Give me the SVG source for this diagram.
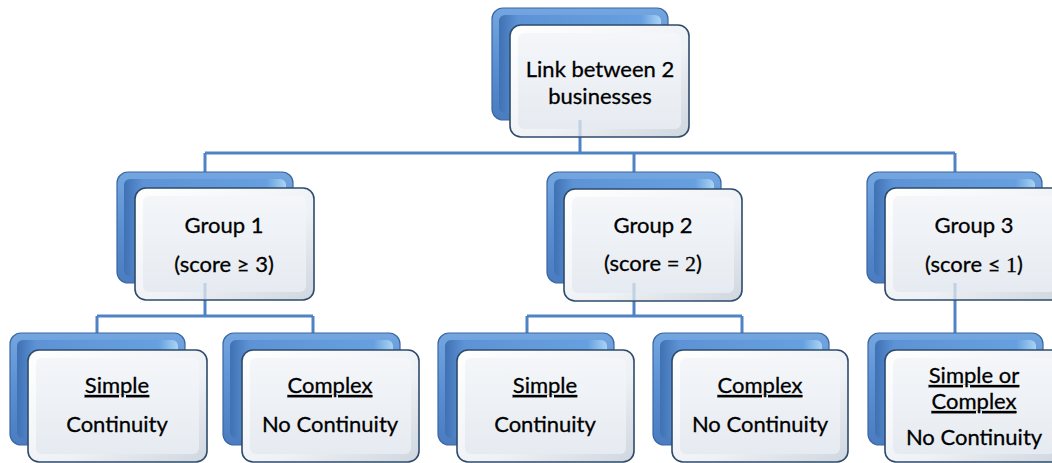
<svg xmlns="http://www.w3.org/2000/svg" width="1052" height="463" viewBox="0 0 1052 463">
  <defs>
    <linearGradient id="gBack" x1="0" y1="0" x2="0" y2="1">
      <stop offset="0" stop-color="#74a6e0"/>
      <stop offset="0.5" stop-color="#5a8fd2"/>
      <stop offset="1" stop-color="#4a7cbf"/>
    </linearGradient>
    <linearGradient id="gBackIn" x1="0" y1="0" x2="1" y2="0">
      <stop offset="0" stop-color="#3f71b3"/>
      <stop offset="0.12" stop-color="#5d93d6"/>
      <stop offset="0.88" stop-color="#66a0e0"/>
      <stop offset="1" stop-color="#a9d4f4"/>
    </linearGradient>
    <linearGradient id="gFront" x1="0" y1="0" x2="1" y2="1">
      <stop offset="0" stop-color="#ffffff"/>
      <stop offset="0.6" stop-color="#eef1f5"/>
      <stop offset="1" stop-color="#cfd6de"/>
    </linearGradient>
    <linearGradient id="gFrontIn" x1="0" y1="0" x2="0" y2="1">
      <stop offset="0" stop-color="#f4f6f9"/>
      <stop offset="1" stop-color="#e6ebf1"/>
    </linearGradient>
    <style>
      .conn { stroke: #4f83c4; stroke-width: 3; fill: none; }
      .ghost { stroke: #4f83c4; stroke-width: 3; fill: none; opacity: 0.25; }
      .back { fill: url(#gBack); stroke: #3a67a1; stroke-width: 1.2; }
      .backIn { fill: url(#gBackIn); }
      .front { fill: url(#gFront); stroke: #2e4b6b; stroke-width: 1.6; }
      .frontIn { fill: url(#gFrontIn); }
      text { font-family: Lato, "Open Sans", "Liberation Sans", sans-serif; font-size: 22px; fill: #000; stroke: #000; stroke-width: 0.3; text-anchor: middle; }
      .u { text-decoration: underline; }
      .m { font-family: "Liberation Serif", "DejaVu Serif", serif; }
    </style>
  </defs>

  <g id="connectors">
    <path class="conn" d="M580 120 V153 M205 153 H955 M205 153 V172 M634 153 V172 M955 153 V172"/>
    <path class="conn" d="M205 283 V316 M97 316 H313 M97 316 V333 M313 316 V333"/>
    <path class="conn" d="M634 283 V316 M527 316 H742 M527 316 V333 M742 316 V333"/>
    <path class="conn" d="M955 283 V333"/>
  </g>

  <g id="node-root">
    <rect class="back" x="492" y="8" width="176" height="112" rx="11"/>
    <rect class="backIn" x="499" y="15" width="162" height="98" rx="6"/>
    <rect class="front" x="510" y="25" width="179" height="112" rx="11"/>
    <rect class="frontIn" x="518" y="33" width="163" height="96" rx="6"/>
    <path class="ghost" d="M580 120 V137"/>
    <text x="600" y="77">Link between 2</text>
    <text x="600" y="104">businesses</text>
  </g>

  <g id="node-group1">
    <rect class="back" x="117" y="172" width="176" height="111" rx="11"/>
    <rect class="backIn" x="124" y="179" width="162" height="97" rx="6"/>
    <rect class="front" x="135" y="188" width="179" height="112" rx="11"/>
    <rect class="frontIn" x="143" y="196" width="163" height="96" rx="6"/>
    <path class="ghost" d="M205 283 V300"/>
    <text x="224" y="233">Group 1</text>
    <text x="224" y="272">(score ≥ 3)</text>
  </g>

  <g id="node-group2">
    <rect class="back" x="547" y="172" width="174" height="111" rx="11"/>
    <rect class="backIn" x="554" y="179" width="160" height="97" rx="6"/>
    <rect class="front" x="564" y="189" width="178" height="112" rx="11"/>
    <rect class="frontIn" x="572" y="197" width="162" height="96" rx="6"/>
    <path class="ghost" d="M634 283 V301"/>
    <text x="653" y="233">Group 2</text>
    <text x="653" y="271">(score = <tspan class="m">2</tspan>)</text>
  </g>

  <g id="node-group3">
    <rect class="back" x="867" y="172" width="175" height="111" rx="11"/>
    <rect class="backIn" x="874" y="179" width="161" height="97" rx="6"/>
    <rect class="front" x="885" y="188" width="178" height="112" rx="11"/>
    <rect class="frontIn" x="893" y="196" width="162" height="96" rx="6"/>
    <path class="ghost" d="M955 283 V300"/>
    <text x="974" y="233">Group 3</text>
    <text x="974" y="272">(score ≤ <tspan class="m">1</tspan>)</text>
  </g>

  <g id="node-g1-simple">
    <rect class="back" x="10" y="333" width="175" height="112" rx="11"/>
    <rect class="backIn" x="17" y="340" width="161" height="98" rx="6"/>
    <rect class="front" x="28" y="350" width="179" height="112" rx="11"/>
    <rect class="frontIn" x="36" y="358" width="163" height="96" rx="6"/>
    <text x="117" y="393" class="u">Simple</text>
    <text x="117" y="432">Continuity</text>
  </g>

  <g id="node-g1-complex">
    <rect class="back" x="223" y="333" width="177" height="112" rx="11"/>
    <rect class="backIn" x="230" y="340" width="163" height="98" rx="6"/>
    <rect class="front" x="242" y="350" width="177" height="112" rx="11"/>
    <rect class="frontIn" x="250" y="358" width="161" height="96" rx="6"/>
    <text x="330" y="393" class="u">Complex</text>
    <text x="330" y="432">No Continuity</text>
  </g>

  <g id="node-g2-simple">
    <rect class="back" x="438" y="333" width="176" height="112" rx="11"/>
    <rect class="backIn" x="445" y="340" width="162" height="98" rx="6"/>
    <rect class="front" x="457" y="350" width="177" height="112" rx="11"/>
    <rect class="frontIn" x="465" y="358" width="161" height="96" rx="6"/>
    <text x="545" y="393" class="u">Simple</text>
    <text x="545" y="432">Continuity</text>
  </g>

  <g id="node-g2-complex">
    <rect class="back" x="653" y="333" width="176" height="112" rx="11"/>
    <rect class="backIn" x="660" y="340" width="162" height="98" rx="6"/>
    <rect class="front" x="672" y="350" width="176" height="112" rx="11"/>
    <rect class="frontIn" x="680" y="358" width="160" height="96" rx="6"/>
    <text x="760" y="393" class="u">Complex</text>
    <text x="760" y="432">No Continuity</text>
  </g>

  <g id="node-g3-any">
    <rect class="back" x="868" y="333" width="175" height="112" rx="11"/>
    <rect class="backIn" x="875" y="340" width="161" height="98" rx="6"/>
    <rect class="front" x="885" y="350" width="178" height="112" rx="11"/>
    <rect class="frontIn" x="893" y="358" width="162" height="96" rx="6"/>
    <text x="974" y="383" class="u">Simple or</text>
    <text x="974" y="409" class="u">Complex</text>
    <text x="974" y="445">No Continuity</text>
  </g>
</svg>
